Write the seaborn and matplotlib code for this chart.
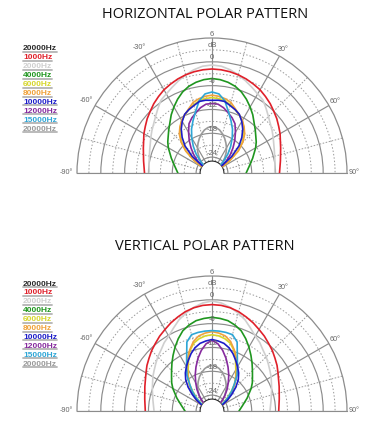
import numpy as np
import matplotlib
matplotlib.use("Agg")
import matplotlib.pyplot as plt
import seaborn as sns
from matplotlib.lines import Line2D

# angle samples (deg) for one half; curves are mirrored to the other side
angles = [0, 5, 10, 15, 20, 25, 30, 35, 40, 45, 50, 55, 60, 70, 80, 90]

legend_labels = ["20000Hz", "1000Hz", "2000Hz", "4000Hz", "6000Hz", "8000Hz",
                 "10000Hz", "12000Hz", "15000Hz", "20000Hz"]
legend_colors = ["#2a2a2a", "#e0202a", "#cfcfcf", "#1f961f", "#d6d62a", "#f0a23a",
                 "#1c1cc8", "#862a9e", "#2ea6d6", "#9a9a9a"]

# horizontal pattern, dB
h_1000 = [-1.8, -1.9, -2.1, -2.4, -2.8, -3.3, -3.8, -4.5, -5.2, -6.0, -6.7, -7.5, -8.2, -9.6, -10.5, -11.0]
h_2000 = [-0.8, -1.0, -1.6, -2.4, -3.3, -4.2, -5.0, -5.6, -6.8, -7.9, -8.8, -9.5, -10.2, -11.3, -11.9, -12.2]
h_4000 = [-4.2, -4.4, -4.8, -5.4, -6.3, -7.5, -8.8, -10.1, -11.5, -12.6, -13.6, -14.4, -15.3, -17.1, -18.5, -19.4]
h_6000 = [-9.0, -9.2, -9.5, -10.2, -11.0, -11.8, -12.8, -14.0, -15.5, -17.3, -19.5, -22.5, -25.5, -27, -27, -27]
h_8000 = [-8.4, -8.6, -9.0, -9.6, -10.8, -11.8, -12.7, -13.9, -15.2, -17.0, -19.3, -22.5, -25.5, -27, -27, -27]
h_10000 = [-9.7, -9.6, -9.7, -10.4, -11.0, -11.7, -13.0, -14.5, -16.3, -18.4, -21.5, -25.5, -27, -27, -27, -27]
h_12000 = [-10.5, -10.6, -11.3, -12.3, -13.2, -14.3, -16.2, -18.0, -19.8, -21.5, -23.3, -25.5, -27, -27, -27, -27]
h_15000 = [-7.6, -8.0, -9.5, -12.0, -14.0, -15.8, -17.8, -19.8, -21.8, -24.0, -26.0, -27, -27, -27, -27, -27]
h_20000 = [-16.3, -16.5, -17.0, -17.8, -18.7, -19.7, -20.7, -21.8, -23.0, -24.3, -25.6, -27, -27, -27, -27, -27]

# vertical pattern, dB
v_1000 = [-1.2, -1.3, -1.6, -2.1, -2.8, -3.5, -4.3, -5.0, -5.8, -6.5, -7.3, -8.0, -8.8, -10.0, -10.8, -11.2]
v_2000 = [-0.3, -0.7, -1.5, -2.5, -3.6, -5.0, -6.2, -7.0, -8.0, -8.7, -9.5, -10.2, -10.8, -12.0, -12.9, -13.4]
v_4000 = [-4.4, -4.6, -4.9, -5.6, -6.5, -7.9, -9.4, -10.9, -12.3, -13.6, -14.7, -15.6, -16.6, -18.6, -20.2, -21.2]
v_6000 = [-8.8, -9.0, -9.5, -10.3, -11.8, -14.0, -16.0, -17.6, -19.2, -21.2, -23.0, -24.5, -26.0, -27, -27, -27]
v_8000 = [-8.0, -8.3, -8.8, -9.9, -11.6, -13.4, -15.6, -17.5, -19.0, -20.6, -22.0, -23.1, -24.8, -27, -27, -27]
v_10000 = [-10.0, -10.3, -10.7, -11.5, -12.6, -13.9, -15.1, -16.3, -17.7, -19.5, -21.5, -23.3, -25.0, -27, -27, -27]
v_12000 = [-10.2, -11.0, -12.5, -14.3, -16.2, -18.0, -19.8, -21.4, -23.0, -24.6, -26.2, -27, -27, -27, -27, -27]
v_15000 = [-7.75, -7.8, -7.9, -8.1, -9.5, -12.9, -15.2, -17.0, -19.3, -21.0, -22.7, -24.4, -26.0, -27, -27, -27]
v_20000 = [-16.5, -16.7, -17.2, -18.0, -18.8, -19.8, -20.8, -21.9, -23.1, -24.4, -25.7, -27, -27, -27, -27, -27]

r_ticks = [6, 0, -6, -12, -18, -24]
r_minor = [3, -3, -9, -15, -21]
theta_labels = [-90, -60, -30, 30, 60, 90]

sns.set_style("white")
plt.rcParams["font.family"] = ["Liberation Sans", "DejaVu Sans"]

fig = plt.figure(figsize=(3.8, 4.25), dpi=100)

grid_col = "#8c8c8c"


def polar_panel(rect, series, title, title_y, legend_y0):
    ax = fig.add_axes(rect, projection="polar")
    ax.set_theta_zero_location("N")
    ax.set_theta_direction(-1)
    ax.set_thetamin(-90)
    ax.set_thetamax(90)
    ax.set_rlim(-25, 6)
    ax.set_rorigin(-28)
    ax.set_facecolor("white")

    tg = list(range(-90, 91, 15))
    ax.set_thetagrids(tg, labels=[""] * len(tg))
    rg = r_ticks[1:]
    ax.set_rgrids(rg, labels=[""] * len(rg))
    ax.grid(True, color=grid_col, lw=0.85)
    for a, gl in zip(tg, ax.xaxis.get_gridlines()):
        if a % 30 != 0:
            gl.set_linestyle((0, (1.6, 1.6)))
            gl.set_color("#9a9a9a")
            gl.set_linewidth(0.7)
    # dotted intermediate rings
    ring_th = np.linspace(-np.pi / 2, np.pi / 2, 361)
    for r in r_minor:
        ax.plot(ring_th, np.full_like(ring_th, r), color="#9a9a9a", lw=0.7,
                ls=(0, (1.5, 2.0)), zorder=1)
    ax.tick_params(length=0)

    ax.spines["polar"].set_color(grid_col)
    ax.spines["polar"].set_linewidth(0.9)
    ax.spines["start"].set_color(grid_col)
    ax.spines["end"].set_color(grid_col)
    ax.spines["inner"].set_visible(False)

    ang = np.array(angles, dtype=float)
    th = np.deg2rad(np.concatenate([-ang[::-1], ang[1:]]))
    for vals, col in series:
        v = np.array(vals, dtype=float)
        rr = np.concatenate([v[::-1], v[1:]])
        sns.lineplot(x=th, y=rr, ax=ax, color=col, lw=1.2, sort=False,
                     estimator=None, zorder=3)

    for t in r_ticks:
        ax.text(0, t + 1.0, str(t), ha="center", va="center", fontsize=5.5,
                color="#666666", clip_on=False, zorder=4)
    ax.text(0, 4.2, "dB", ha="center", va="center", fontsize=5.5,
            color="#666666", clip_on=False, zorder=4)
    for a in theta_labels:
        rpos = 8.6 if a < 0 else 7.8
        ax.text(np.deg2rad(a), rpos, f"{a}°", ha="center", va="center",
                fontsize=5.2, color="#666666", clip_on=False)
    ax.set_xlabel("")
    ax.set_ylabel("")

    fig.text(205 / 380, 1 - title_y / 425, title, ha="center", va="center",
             fontsize=10.5, family=["Open Sans", "DejaVu Sans"], color="#111111")

    texts = []
    for i, (lab, col) in enumerate(zip(legend_labels, legend_colors)):
        y = legend_y0 + i * 8.9
        t = fig.text(23 / 380, 1 - y / 425, lab, color=col, fontsize=6,
                     fontweight="bold", va="center", ha="left")
        texts.append(t)
    return texts


top_series = [(h_2000, legend_colors[2]), (h_1000, legend_colors[1]),
              (h_4000, legend_colors[3]), (h_20000, legend_colors[9]),
              (h_6000, legend_colors[4]), (h_8000, legend_colors[5]),
              (h_12000, legend_colors[7]), (h_15000, legend_colors[8]),
              (h_10000, legend_colors[6])]
bot_series = [(v_2000, legend_colors[2]), (v_1000, legend_colors[1]),
              (v_4000, legend_colors[3]), (v_20000, legend_colors[9]),
              (v_6000, legend_colors[4]), (v_8000, legend_colors[5]),
              (v_15000, legend_colors[8]), (v_12000, legend_colors[7]),
              (v_10000, legend_colors[6])]

# square boxes; the half-disc is centred inside them (radius 135 px)
w = 270 / 380
h = 270 / 425
t1 = polar_panel([77 / 380, (425 - 240.5) / 425, w, h], top_series,
                 "HORIZONTAL POLAR PATTERN", 14, 49)
t2 = polar_panel([77 / 380, (425 - 478.5) / 425, w, h], bot_series,
                 "VERTICAL POLAR PATTERN", 247, 284)

# grey underline below each legend label
fig.canvas.draw()
inv = fig.transFigure.inverted()
for t in t1 + t2:
    bb = t.get_window_extent().transformed(inv)
    fig.add_artist(Line2D([bb.x0, bb.x1], [bb.y0 + 0.001, bb.y0 + 0.001],
                          transform=fig.transFigure, color="#b4b4b4", lw=1.3,
                          zorder=0))

fig.savefig("out.png", dpi=100)
